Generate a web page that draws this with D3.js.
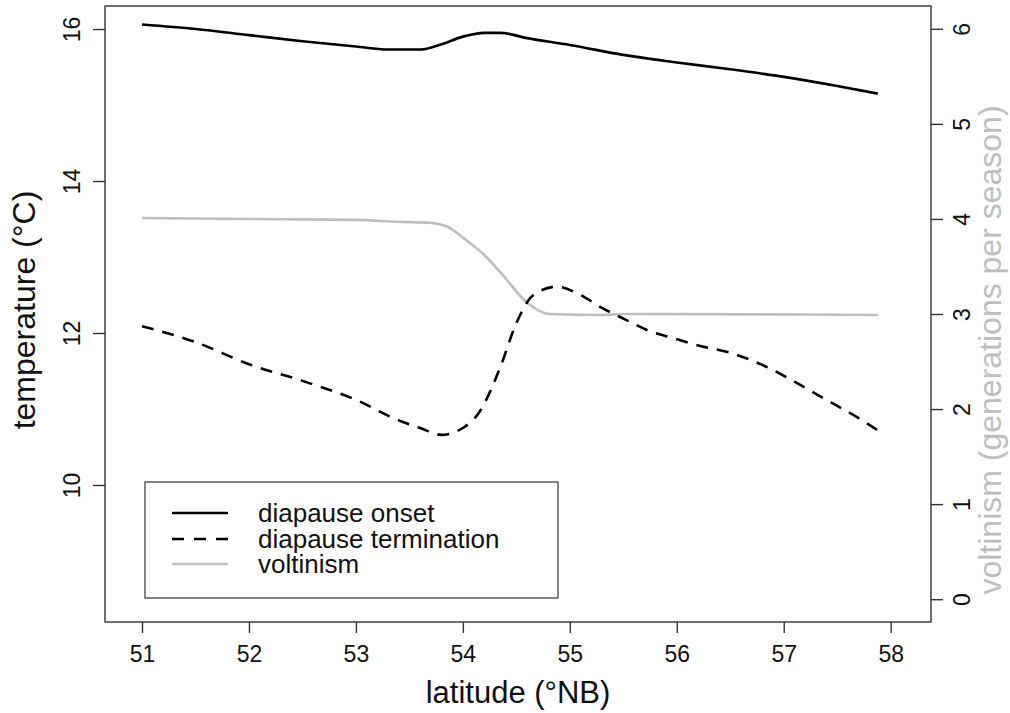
<!DOCTYPE html>
<html>
<head>
<meta charset="utf-8">
<script src="https://cdn.jsdelivr.net/npm/d3@7"></script>
<style>
  html, body { margin: 0; padding: 0; background: #fff; }
  svg { display: block; font-family: "Liberation Sans", Arial, sans-serif; }
</style>
</head>
<body>
<svg id="chart" width="1010" height="713"></svg>
<script>
// ---- data ----
const onsetLat = [51.0, 51.5, 52.0, 52.5, 53.0, 53.3, 53.6, 53.8, 54.0, 54.2, 54.35, 54.6, 55.0, 55.5, 56.0, 56.5, 57.0, 57.5, 57.88];
const onsetTemp = [16.06, 16.00, 15.92, 15.84, 15.77, 15.73, 15.73, 15.80, 15.90, 15.95, 15.95, 15.88, 15.79, 15.66, 15.56, 15.47, 15.37, 15.25, 15.15];

const termLat = [51.0, 51.5, 52.0, 52.5, 53.0, 53.4, 53.6, 53.8, 54.0, 54.15, 54.35, 54.5, 54.66, 54.88, 55.1, 55.3, 55.53, 55.72, 55.97, 56.22, 56.5, 56.8, 57.1, 57.4, 57.7, 57.88];
const termTemp = [12.09, 11.88, 11.59, 11.37, 11.12, 10.85, 10.75, 10.66, 10.75, 10.95, 11.55, 12.13, 12.50, 12.61, 12.50, 12.33, 12.17, 12.04, 11.93, 11.83, 11.74, 11.58, 11.36, 11.12, 10.88, 10.72];

const voltLat = [51.0, 52.0, 53.0, 53.4, 53.69, 53.85, 54.04, 54.2, 54.35, 54.6, 54.72, 54.81, 55.3, 55.5, 57.88];
const voltGen = [4.01, 4.00, 3.99, 3.97, 3.96, 3.92, 3.77, 3.62, 3.44, 3.12, 3.03, 3.00, 2.99, 3.00, 2.99];

const xTicks = [51, 52, 53, 54, 55, 56, 57, 58];
const yLeftTicks = [10, 12, 14, 16];
const yRightTicks = [0, 1, 2, 3, 4, 5, 6];

const legendLabels = ["diapause onset", "diapause termination", "voltinism"];

// ---- layout ----
const L = 105, R = 931, T = 6, B = 622;
const svg = d3.select("#chart");

const x = d3.scaleLinear().domain([50.654, 58.377]).range([L, R]);
const yL = d3.scaleLinear().domain([8.197, 16.303]).range([B, T]);
const yR = d3.scaleLinear().domain([-0.24, 6.24]).range([B, T]);

const axisColor = "#333";
const gray = "#bebebe";

// curves
const lineL = d3.line().x(d => x(d[0])).y(d => yL(d[1])).curve(d3.curveMonotoneX);
const lineR = d3.line().x(d => x(d[0])).y(d => yR(d[1])).curve(d3.curveMonotoneX);

svg.append("path")
  .attr("d", lineR(d3.zip(voltLat, voltGen)))
  .attr("fill", "none").attr("stroke", gray).attr("stroke-width", 2.6);

svg.append("path")
  .attr("d", lineL(d3.zip(onsetLat, onsetTemp)))
  .attr("fill", "none").attr("stroke", "#000").attr("stroke-width", 2.6);

svg.append("path")
  .attr("d", lineL(d3.zip(termLat, termTemp)))
  .attr("fill", "none").attr("stroke", "#000").attr("stroke-width", 2.6)
  .attr("stroke-dasharray", "12,9");

// box
svg.append("rect")
  .attr("x", L).attr("y", T).attr("width", R - L).attr("height", B - T)
  .attr("fill", "none").attr("stroke", axisColor).attr("stroke-width", 1.4);

// axes
const fontTick = 23;
const gx = svg.append("g").attr("transform", `translate(0,${B})`)
  .call(d3.axisBottom(x).tickValues(xTicks).tickSize(11).tickSizeOuter(0).tickFormat(d3.format("d")));
gx.select(".domain").remove();
gx.selectAll("line").attr("stroke", axisColor).attr("stroke-width", 1.4);
gx.selectAll("text").attr("y", 40).attr("dy", 0)
  .attr("font-size", fontTick).attr("fill", "#111").attr("font-family", null);

const gl = svg.append("g").attr("transform", `translate(${L},0)`)
  .call(d3.axisLeft(yL).tickValues(yLeftTicks).tickSize(12).tickSizeOuter(0).tickFormat(d3.format("d")));
gl.select(".domain").remove();
gl.selectAll("line").attr("stroke", axisColor).attr("stroke-width", 1.4);
gl.selectAll("text").attr("transform", "rotate(-90)").attr("x", 0).attr("y", -25).attr("dy", 0)
  .attr("text-anchor", "middle").attr("font-size", fontTick).attr("fill", "#111").attr("font-family", null);

const gr = svg.append("g").attr("transform", `translate(${R},0)`)
  .call(d3.axisRight(yR).tickValues(yRightTicks).tickSize(12).tickSizeOuter(0).tickFormat(d3.format("d")));
gr.select(".domain").remove();
gr.selectAll("line").attr("stroke", axisColor).attr("stroke-width", 1.4);
gr.selectAll("text").attr("transform", "rotate(-90)").attr("x", 0).attr("y", 39).attr("dy", 0)
  .attr("text-anchor", "middle").attr("font-size", fontTick).attr("fill", "#111").attr("font-family", null);

// axis titles
svg.append("text").attr("x", (L + R) / 2).attr("y", 703).attr("text-anchor", "middle")
  .attr("font-size", 31).attr("fill", "#111").text("latitude (°NB)");

svg.append("text").attr("transform", "translate(35,310) rotate(-90)").attr("text-anchor", "middle")
  .attr("font-size", 32).attr("fill", "#111").text("temperature (°C)");

svg.append("text").attr("transform", "translate(1001,350) rotate(-90)").attr("text-anchor", "middle")
  .attr("font-size", 32).attr("fill", gray).text("voltinism (generations per season)");

// legend
const lg = svg.append("g");
lg.append("rect").attr("x", 145).attr("y", 482).attr("width", 413).attr("height", 116)
  .attr("fill", "#fff").attr("stroke", axisColor).attr("stroke-width", 1.2);
const rowsY = [513, 539, 564];
const legStyles = [
  { stroke: "#000", dash: null },
  { stroke: "#000", dash: "12,10" },
  { stroke: gray, dash: null }
];
legendLabels.forEach((lab, i) => {
  lg.append("line").attr("x1", 172).attr("x2", 228).attr("y1", rowsY[i]).attr("y2", rowsY[i])
    .attr("stroke", legStyles[i].stroke).attr("stroke-width", 2.6)
    .attr("stroke-dasharray", legStyles[i].dash);
  lg.append("text").attr("x", 258).attr("y", rowsY[i]).attr("dy", "0.35em")
    .attr("font-size", 26).attr("fill", "#111").text(lab);
});
</script>
</body>
</html>
